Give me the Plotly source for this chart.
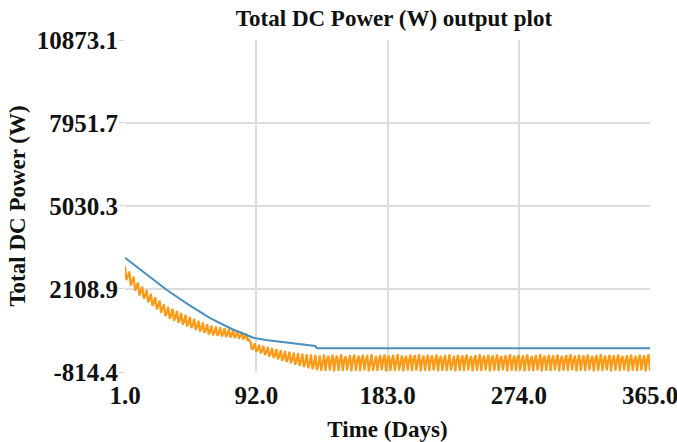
import plotly.graph_objects as go

# ---- data ----
x_ticks = [1, 92, 183, 274, 365]
x_tick_labels = ["1.0", "92.0", "183.0", "274.0", "365.0"]
y_ticks = [-814.4, 2108.9, 5030.3, 7951.7, 10873.1]
y_tick_labels = ["-814.4", "2108.9", "5030.3", "7951.7", "10873.1"]

blue_days = [1, 10, 20, 30, 45, 60, 75, 90, 100, 110, 122, 133, 134, 365]
blue_power = [3210, 2850, 2470, 2070, 1560, 1080, 700, 390, 300, 240, 150, 100, 20, 20]

orange_power = [
    2900, 2420, 2560, 2720, 2230, 2380, 2540, 2050, 2200, 2330, 1870, 2000, 2190, 1760, 1880,
    2070, 1640, 1760, 1940, 1510, 1630, 1820, 1390, 1510, 1700, 1270, 1390, 1570, 1150, 1270,
    1480, 1060, 1180, 1410, 990, 1110, 1340, 920, 1040, 1270, 850, 970, 1200, 790, 900,
    1130, 730, 840, 1060, 670, 780, 990, 610, 720, 930, 560, 660, 870, 510, 610,
    820, 480, 570, 790, 460, 550, 760, 440, 530, 730, 420, 510, 700, 400, 490,
    670, 380, 470, 640, 360, 450, 600, 330, 410, 540, 280, 330, 250, -30, 50,
    200, -100, -20, 150, -160, -70, 110, -220, -120, 70, -270, -170, 30, -320, -210,
    -10, -370, -250, -40, -420, -290, -70, -470, -330, -100, -510, -370, -130, -560, -410,
    -150, -600, -440, -170, -640, -470, -190, -680, -500, -200, -720, -530, -210, -750, -560,
    -230, -770, -400, -200, -780, -380, -250, -760, -420, -210, -790, -370, -240, -770, -410,
    -190, -780, -390, -260, -760, -430, -220, -790, -380, -200, -770, -400, -240, -780, -360,
    -210, -760, -410, -230, -790, -390, -190, -770, -420, -250, -780, -380, -220, -760, -400,
    -200, -790, -370, -240, -770, -410, -210, -780, -390, -180, -760, -420, -230, -790, -380,
    -250, -770, -400, -200, -780, -360, -220, -760, -410, -190, -790, -390, -240, -770, -420,
    -210, -780, -380, -230, -760, -400, -200, -790, -370, -250, -770, -410, -220, -780, -390,
    -190, -760, -420, -240, -790, -380, -210, -770, -400, -230, -780, -360, -200, -760, -410,
    -250, -790, -390, -220, -770, -420, -190, -780, -380, -240, -760, -400, -210, -790, -370,
    -230, -770, -410, -200, -780, -390, -250, -760, -420, -220, -790, -380, -190, -770, -400,
    -240, -780, -360, -210, -760, -410, -230, -790, -390, -200, -770, -420, -250, -780, -380,
    -220, -760, -400, -190, -790, -370, -240, -770, -410, -210, -780, -390, -230, -760, -420,
    -200, -790, -380, -250, -770, -400, -220, -780, -360, -190, -760, -410, -240, -790, -390,
    -210, -770, -420, -230, -780, -380, -200, -760, -400, -250, -790, -370, -220, -770, -410,
    -190, -780, -390, -240, -760, -420, -210, -790, -380, -230, -770, -400, -200, -780, -360,
    -250, -760, -410, -220, -790, -390, -200, -770, -420, -240, -780, -380, -210, -760, -400,
    -230, -790, -370, -190, -770,
]
orange_days = list(range(1, len(orange_power) + 1))

SERIF = "Liberation Serif, Times New Roman, serif"

fig = go.Figure()
fig.add_trace(go.Scatter(x=orange_days, y=orange_power, mode="lines",
                         line=dict(color="#fa9a16", width=2.2), showlegend=False))
fig.add_trace(go.Scatter(x=blue_days, y=blue_power, mode="lines",
                         line=dict(color="#4a8fbd", width=2), showlegend=False))

fig.update_layout(
    width=677, height=442,
    margin=dict(l=125, r=27, t=40, b=70),
    paper_bgcolor="white", plot_bgcolor="white",
    title=dict(text="Total DC Power (W) output plot", x=394 / 677, xref="container",
               y=1 - 18 / 442, yref="container", xanchor="center", yanchor="middle",
               font=dict(family=SERIF, size=23, color="#111", weight="bold")),
    font=dict(family=SERIF, color="#111"),
)
fig.update_xaxes(
    range=[1, 365], tickvals=x_ticks, ticktext=x_tick_labels,
    showgrid=True, gridcolor="#dcdcdc", gridwidth=1.5, zeroline=False,
    showline=False, ticks="", automargin=False, ticklabelstandoff=6,
    ticklabeloverflow="allow",
    tickfont=dict(family=SERIF, size=25, color="#111", weight="bold"),
    title=dict(text="Time (Days)", standoff=22,
               font=dict(family=SERIF, size=23, color="#111", weight="bold")),
)
fig.update_yaxes(
    range=[-814.4, 10873.1], tickvals=y_ticks, ticktext=y_tick_labels,
    showgrid=True, gridcolor="#dcdcdc", gridwidth=1.5, zeroline=False,
    showline=False, ticks="outside", ticklen=5, tickcolor="#c8d4e0",
    automargin=False, ticklabelstandoff=-4, ticklabeloverflow="allow",
    tickfont=dict(family=SERIF, size=25, color="#111", weight="bold"),
    title=dict(text="Total DC Power (W)", standoff=4,
               font=dict(family=SERIF, size=23, color="#111", weight="bold")),
)

fig.write_html("out.html")
